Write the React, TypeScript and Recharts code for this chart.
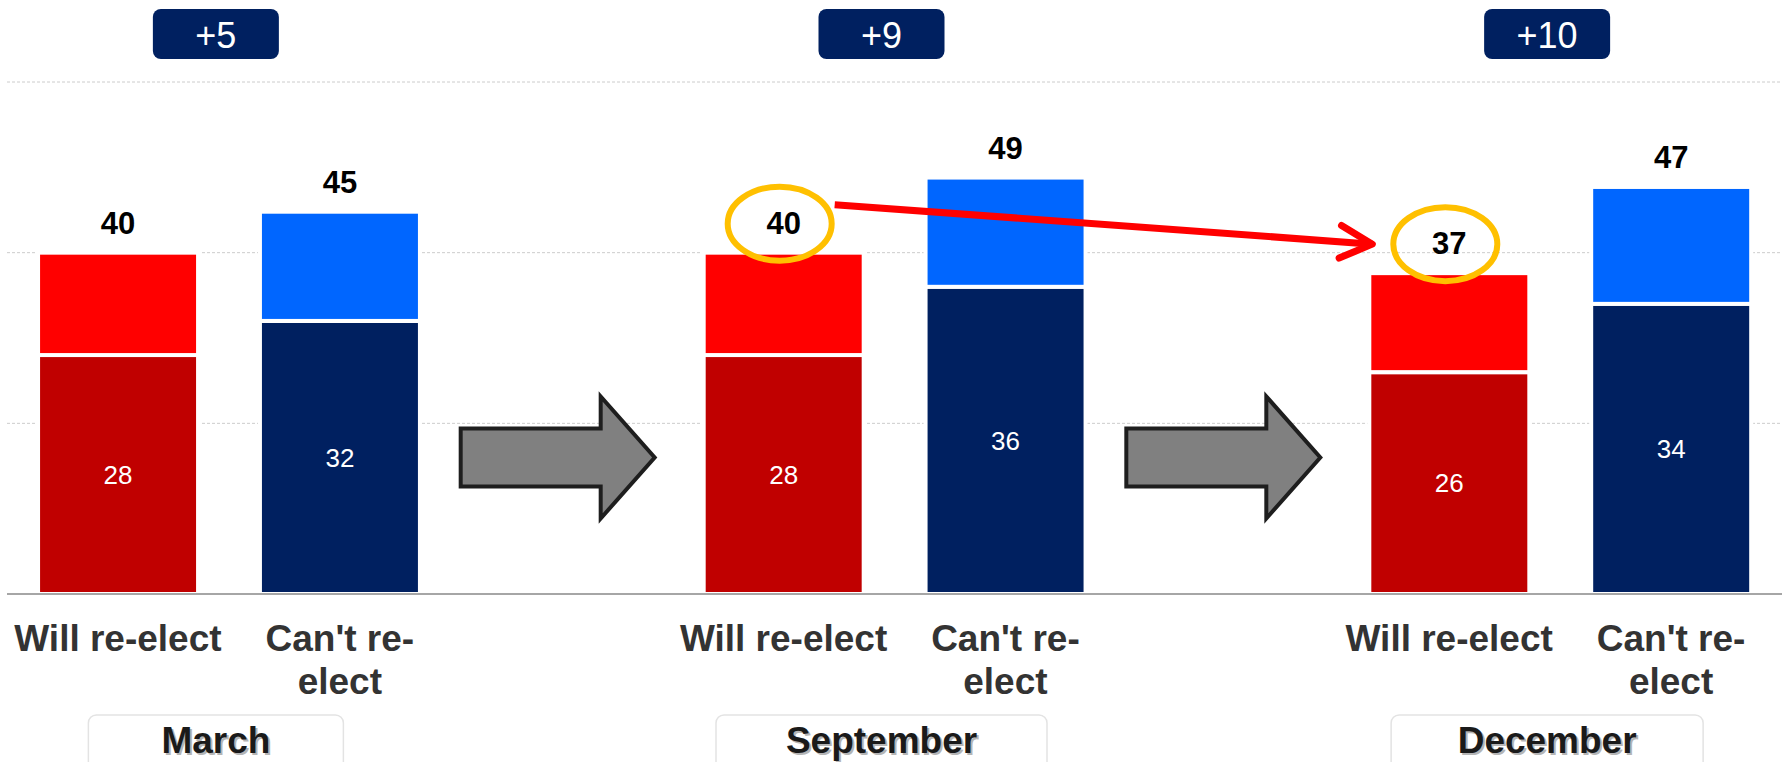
import React from 'react';
import { BarChart, Bar, XAxis, YAxis, CartesianGrid, LabelList, ReferenceDot, Cell } from 'recharts';

// survey waves and the lead of "can't re-elect" over "will re-elect"
const months = ['March', 'September', 'December'];
const leads = ['+5', '+9', '+10'];
const choices = ['Will re-elect', "Can't re-elect"];
// dark part of each bar (firm answer) and the full bar height as drawn
const willCore = [28, 28, 26];
const willTotal = [40, 40, 37.6];
const cantCore = [32, 36, 34];
const cantTotal = [44.8, 48.8, 47.7];
// totals as printed above the bars
const willShown = [40, 40, 37];
const cantShown = [45, 49, 47];
// waves whose "will re-elect" total is circled and joined by the red arrow
const circled = ['September', 'December'];
const yTicks = [0, 20, 40, 60];

const FONT = '"Liberation Sans", Arial, sans-serif';
const COLORS: Record<string, { core: string; rest: string }> = {
  will: { core: '#C00000', rest: '#FF0000' },
  cant: { core: '#002060', rest: '#0066FF' },
};

type Row = {
  slot: string;
  kind: 'will' | 'cant' | 'gap';
  month: string;
  lead: string;
  label: string;
  core?: number;
  rest?: number;
  shown?: number;
};

const rows: Row[] = [];
months.forEach((m, i) => {
  rows.push({ slot: `${m}-will`, kind: 'will', month: m, lead: leads[i], label: choices[0], core: willCore[i], rest: willTotal[i] - willCore[i], shown: willShown[i] });
  rows.push({ slot: `${m}-cant`, kind: 'cant', month: m, lead: leads[i], label: choices[1], core: cantCore[i], rest: cantTotal[i] - cantCore[i], shown: cantShown[i] });
  if (i < months.length - 1) rows.push({ slot: `gap-${i}`, kind: 'gap', month: m, lead: '', label: '' });
});
const rowBySlot: Record<string, Row> = {};
rows.forEach(r => (rowBySlot[r.slot] = r));

// positions collected while rendering, used by later marks
const groupX: Record<string, number> = {};
const spots: Record<string, { cx: number; cy: number }> = {};

const wrap = (s: string) => {
  const k = s.lastIndexOf('re-');
  return s.length > 13 && k > 0 ? [s.slice(0, k + 3), s.slice(k + 3)] : [s];
};

const TopSegment = (props: any) => {
  const { x, y, width, height, payload } = props;
  if (!payload || payload.shown == null || !height) return null;
  const cx = x + width / 2;
  const base = y - 19;
  const mid = base - 11;
  const hi = payload.kind === 'will' && circled.includes(payload.month);
  if (hi) spots[payload.month] = { cx, cy: mid };
  let arrow = null;
  if (hi && payload.month === circled[circled.length - 1]) {
    const from = spots[circled[0]];
    if (from) {
      const x1 = from.cx + 51, y1 = from.cy - 18;
      const x2 = cx - 77, y2 = mid + 1;
      const a = Math.atan2(y2 - y1, x2 - x1);
      const phi = (27 * Math.PI) / 180, L = 36;
      const p1 = [x2 - L * Math.cos(a + phi), y2 - L * Math.sin(a + phi)];
      const p2 = [x2 - L * Math.cos(a - phi), y2 - L * Math.sin(a - phi)];
      arrow = (
        <g stroke="#FF0000" strokeWidth={7} fill="none" strokeLinecap="round" strokeLinejoin="round">
          <line x1={x1} y1={y1} x2={x2} y2={y2} strokeLinecap="butt" />
          <polyline points={`${p1[0]},${p1[1]} ${x2},${y2} ${p2[0]},${p2[1]}`} />
        </g>
      );
    }
  }
  return (
    <g>
      <rect x={x} y={y} width={width} height={height} fill={COLORS[payload.kind].rest} stroke="#fff" strokeWidth={4} />
      <text x={cx} y={base} textAnchor="middle" fontFamily={FONT} fontWeight="bold" fontSize={31} fill="#000">
        {payload.shown}
      </text>
      {hi && <ellipse cx={cx - 4} cy={mid + 1} rx={52} ry={37} fill="none" stroke="#FFC000" strokeWidth={6} />}
      {arrow}
    </g>
  );
};

const LeadTick = (props: any) => {
  const { x, y, payload } = props;
  const row = rowBySlot[payload.value];
  if (!row || row.kind === 'gap') return <g />;
  if (row.kind === 'will') {
    groupX[row.month] = x;
    return <g />;
  }
  const cx = ((groupX[row.month] ?? x) + x) / 2 - 13;
  return (
    <g>
      <rect x={cx - 63} y={y - 73} width={126} height={50} rx={8} fill="#002060" />
      <text x={cx} y={y - 34} textAnchor="middle" fontFamily={FONT} fontSize={36} fill="#fff">
        {row.lead}
      </text>
    </g>
  );
};

const ChoiceTick = (props: any) => {
  const { x, y, payload } = props;
  const row = rowBySlot[payload.value];
  if (!row || row.kind === 'gap') return <g />;
  const lines = wrap(row.label);
  let monthBox = null;
  if (row.kind === 'will') groupX[row.month] = x;
  else {
    const cx = ((groupX[row.month] ?? x) + x) / 2 - 13;
    const w = 160 + row.month.length * 19;
    monthBox = (
      <g fontFamily={FONT} fontWeight="bold" fontSize={37} textAnchor="middle">
        <rect x={cx - w / 2} y={y + 121} width={w} height={60} rx={8} fill="#fff" stroke="#E3E3E3" strokeWidth={1.5} />
        <text x={cx + 2} y={y + 161} fill="#B5B5B5">{row.month}</text>
        <text x={cx} y={y + 159} fill="#1A1A1A">{row.month}</text>
      </g>
    );
  }
  return (
    <g>
      {lines.map((l, i) => (
        <text key={i} x={x} y={y + 57 + i * 43} textAnchor="middle" fontFamily={FONT} fontWeight="bold" fontSize={37} fill="#333333">
          {l}
        </text>
      ))}
      {monthBox}
    </g>
  );
};

const BlockArrow = (props: any) => {
  const { cx, cy } = props;
  if (cx == null || cy == null) return <g />;
  const x0 = cx - 101;
  const d = `M${x0},${cy - 29} L${x0 + 140},${cy - 29} L${x0 + 140},${cy - 61} L${x0 + 194},${cy} L${x0 + 140},${cy + 61} L${x0 + 140},${cy + 29} L${x0},${cy + 29} Z`;
  return <path d={d} fill="#808080" stroke="#1E1E1E" strokeWidth={4} strokeLinejoin="miter" />;
};

export default function App() {
  return (
    <div style={{ width: 1786, height: 762, background: '#fff' }}>
      <style>{'body{margin:0}'}</style>
      <BarChart width={1786} height={762} data={rows} margin={{ top: 0, right: 4, left: 7, bottom: 0 }} barCategoryGap="14%">
        <CartesianGrid vertical={false} stroke="#CCCCCC" strokeDasharray="3 2" />
        <XAxis xAxisId="top" orientation="top" dataKey="slot" height={82} axisLine={false} tickLine={false} tickSize={0} tickMargin={0} interval={0} tick={LeadTick} />
        <XAxis dataKey="slot" height={168} axisLine={{ stroke: '#A6A6A6', strokeWidth: 2 }} tickLine={false} tickSize={0} tickMargin={0} interval={0} tick={ChoiceTick} />
        <YAxis hide domain={[0, 60]} ticks={yTicks} />
        <Bar dataKey="core" stackId="s" stroke="#fff" strokeWidth={4} isAnimationActive={false}>
          {rows.map(r => (
            <Cell key={r.slot} fill={r.kind === 'gap' ? 'none' : COLORS[r.kind].core} />
          ))}
          <LabelList dataKey="core" position="center" fill="#fff" fontSize={26} fontFamily={FONT} />
        </Bar>
        <Bar dataKey="rest" stackId="s" shape={TopSegment} isAnimationActive={false} />
        <ReferenceDot x="gap-0" y={16} r={0} shape={BlockArrow} ifOverflow="visible" />
        <ReferenceDot x="gap-1" y={16} r={0} shape={BlockArrow} ifOverflow="visible" />
      </BarChart>
    </div>
  );
}
